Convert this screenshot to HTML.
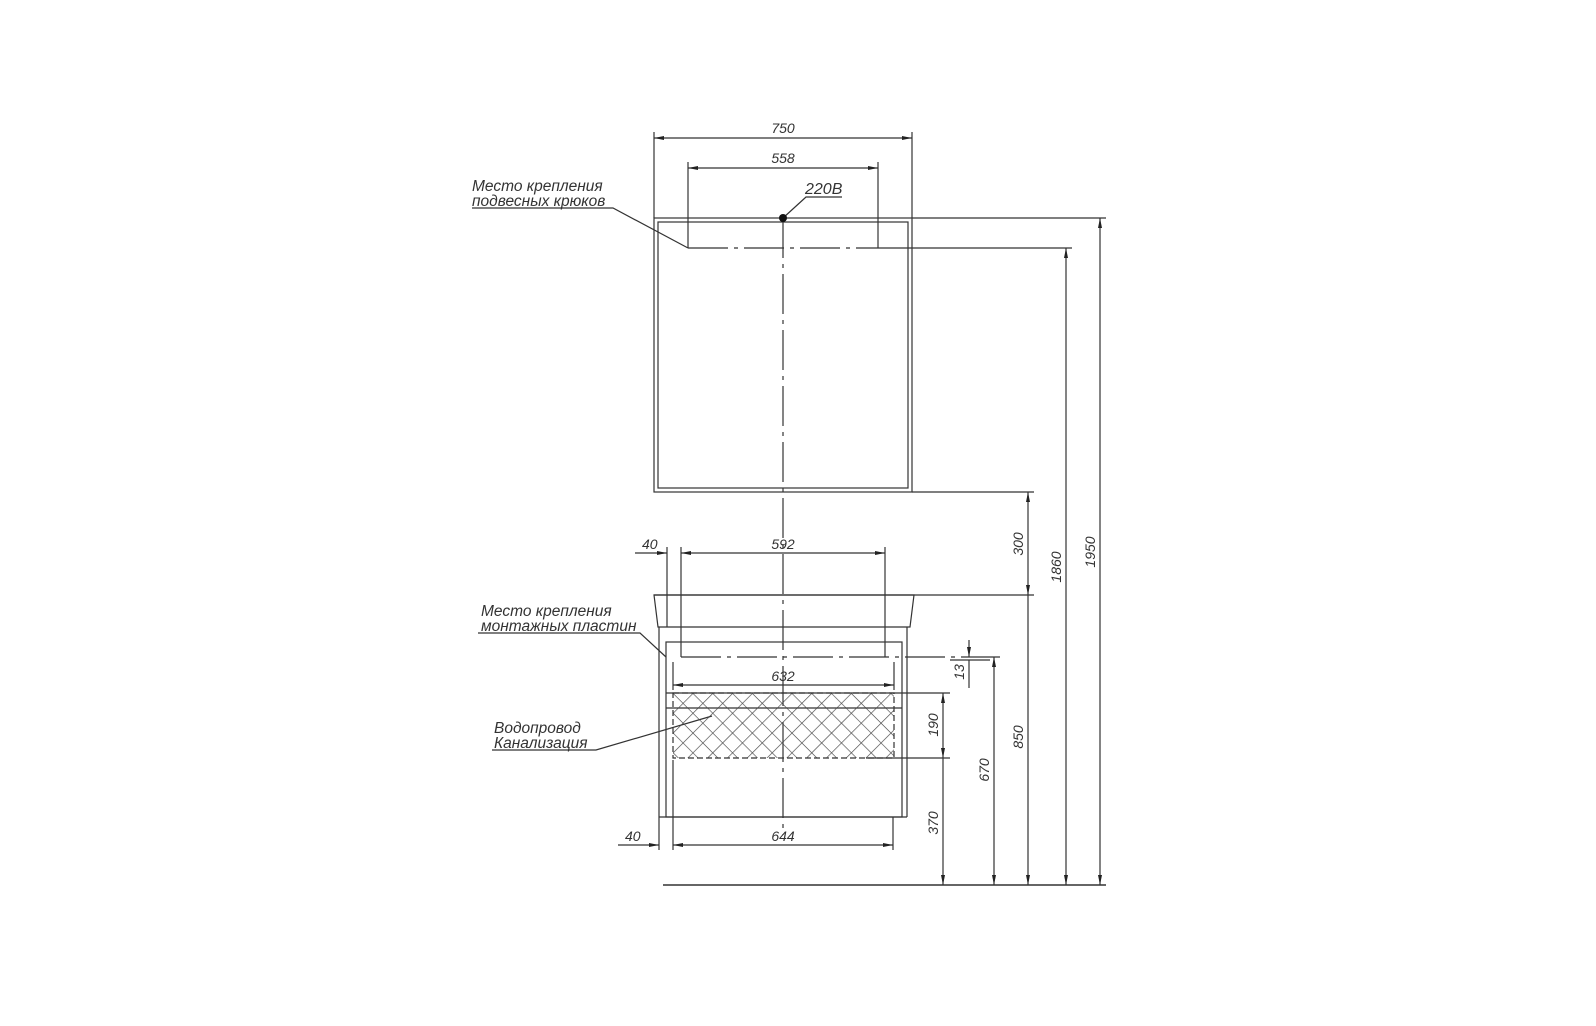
<!DOCTYPE html>
<html><head><meta charset="utf-8"><style>
html,body{margin:0;padding:0;background:#fff;}
svg{display:block;}
text{font-family:"Liberation Sans",sans-serif;font-style:italic;fill:#333;}
</style></head><body>
<svg width="1596" height="1026" viewBox="0 0 1596 1026" xmlns="http://www.w3.org/2000/svg">
<defs>
<pattern id="hx" width="14" height="14" patternUnits="userSpaceOnUse" patternTransform="rotate(45)">
<path d="M0 0H14M0 0V14" stroke="#444" stroke-width="1.3" fill="none"/>
</pattern>
<marker id="a" viewBox="0 0 10 6" refX="10" refY="3" markerWidth="10" markerHeight="6" orient="auto-start-reverse" markerUnits="userSpaceOnUse"><path d="M0 1L10 3L0 5z" fill="#222"/></marker>
</defs>
<g stroke="#333" stroke-width="1.2" fill="none">
<rect x="654" y="218" width="258" height="274"/>
<rect x="658" y="222" width="250" height="266"/>
<line x1="654" y1="218" x2="654" y2="132"/><line x1="912" y1="218" x2="912" y2="132"/>
<line x1="654" y1="138" x2="912" y2="138" marker-start="url(#a)" marker-end="url(#a)"/>
<line x1="688" y1="248" x2="688" y2="162"/><line x1="878" y1="248" x2="878" y2="162"/>
<line x1="688" y1="168" x2="878" y2="168" marker-start="url(#a)" marker-end="url(#a)"/>
<line x1="688" y1="248" x2="878" y2="248" stroke-dasharray="40 6 4 6"/>
<line x1="912" y1="218" x2="1106" y2="218"/>
<line x1="878" y1="248" x2="1072" y2="248"/>
<line x1="912" y1="492" x2="1034" y2="492"/>
<line x1="783" y1="218" x2="783" y2="835" stroke-dasharray="40 6 4 6"/>
<polyline points="783,218 806,197 842,197"/>
<polyline points="472,208 613,208 688,248"/>
<path d="M654 595 L914 595 L910 627 L658 627 Z"/>
<line x1="654" y1="595" x2="1034" y2="595"/>
<line x1="659" y1="627" x2="659" y2="817"/>
<line x1="907" y1="627" x2="907" y2="817"/>
<rect x="666" y="642" width="236" height="175"/>
<line x1="666" y1="708" x2="902" y2="708"/>
<line x1="659" y1="817" x2="907" y2="817"/>
<line x1="666" y1="693" x2="950" y2="693"/>
<line x1="866" y1="758" x2="950" y2="758"/>
<line x1="681" y1="657" x2="1000" y2="657" stroke-dasharray="40 6 4 6"/>
<line x1="681" y1="657" x2="681" y2="547"/><line x1="885" y1="657" x2="885" y2="547"/>
<line x1="667" y1="547" x2="667" y2="627"/>
<line x1="681" y1="553" x2="885" y2="553" marker-start="url(#a)" marker-end="url(#a)"/>
<line x1="635" y1="553" x2="667" y2="553" marker-end="url(#a)"/>
<line x1="673" y1="662" x2="673" y2="690"/><line x1="894" y1="662" x2="894" y2="690"/>
<line x1="673" y1="685" x2="894" y2="685" marker-start="url(#a)" marker-end="url(#a)"/>
<line x1="659" y1="817" x2="659" y2="850"/><line x1="673" y1="760" x2="673" y2="850"/><line x1="893" y1="817" x2="893" y2="850"/>
<line x1="673" y1="845" x2="893" y2="845" marker-start="url(#a)" marker-end="url(#a)"/>
<line x1="618" y1="845" x2="659" y2="845" marker-end="url(#a)"/>
<line x1="969" y1="640" x2="969" y2="657" marker-end="url(#a)"/>
<line x1="969" y1="688" x2="969" y2="660"/>
<line x1="950" y1="660" x2="990" y2="660"/>
<line x1="943" y1="693" x2="943" y2="758" marker-start="url(#a)" marker-end="url(#a)"/>
<line x1="943" y1="758" x2="943" y2="885" marker-end="url(#a)"/>
<line x1="994" y1="657" x2="994" y2="885" marker-start="url(#a)" marker-end="url(#a)"/>
<line x1="1028" y1="492" x2="1028" y2="595" marker-start="url(#a)" marker-end="url(#a)"/>
<line x1="1028" y1="595" x2="1028" y2="885" marker-end="url(#a)"/>
<line x1="1066" y1="248" x2="1066" y2="885" marker-start="url(#a)" marker-end="url(#a)"/>
<line x1="1100" y1="218" x2="1100" y2="885" marker-start="url(#a)" marker-end="url(#a)"/>
<line x1="663" y1="885" x2="1106" y2="885" stroke-width="1.5"/>
<polyline points="478,633 640,633 666,657"/>
<polyline points="492,750 596,750 712,716"/>
</g>
<rect x="673" y="693" width="221" height="65" fill="url(#hx)"/>
<rect x="673" y="693" width="221" height="65" fill="none" stroke="#333" stroke-width="1.2" stroke-dasharray="6 3"/>
<circle cx="783" cy="218" r="4" fill="#111"/>
<g font-size="14">
<text x="783" y="133" text-anchor="middle">750</text>
<text x="783" y="163" text-anchor="middle">558</text>
<text x="805" y="194" font-size="16">220В</text>
<text x="472" y="191" font-size="15.5">Место крепления</text>
<text x="472" y="206" font-size="15.5">подвесных крюков</text>
<text x="783" y="549" text-anchor="middle">592</text>
<text x="642" y="549">40</text>
<text x="783" y="681" text-anchor="middle">632</text>
<text x="783" y="841" text-anchor="middle">644</text>
<text x="625" y="841">40</text>
<text x="481" y="616" font-size="15.5">Место крепления</text>
<text x="481" y="631" font-size="15.5">монтажных пластин</text>
<text x="494" y="733" font-size="15.5">Водопровод</text>
<text x="494" y="748" font-size="15.5">Канализация</text>
<text transform="translate(964,672) rotate(-90)" text-anchor="middle">13</text>
<text transform="translate(938,725) rotate(-90)" text-anchor="middle">190</text>
<text transform="translate(938,823) rotate(-90)" text-anchor="middle">370</text>
<text transform="translate(989,770) rotate(-90)" text-anchor="middle">670</text>
<text transform="translate(1023,544) rotate(-90)" text-anchor="middle">300</text>
<text transform="translate(1023,737) rotate(-90)" text-anchor="middle">850</text>
<text transform="translate(1061,567) rotate(-90)" text-anchor="middle">1860</text>
<text transform="translate(1095,552) rotate(-90)" text-anchor="middle">1950</text>
</g>
</svg>
</body></html>
